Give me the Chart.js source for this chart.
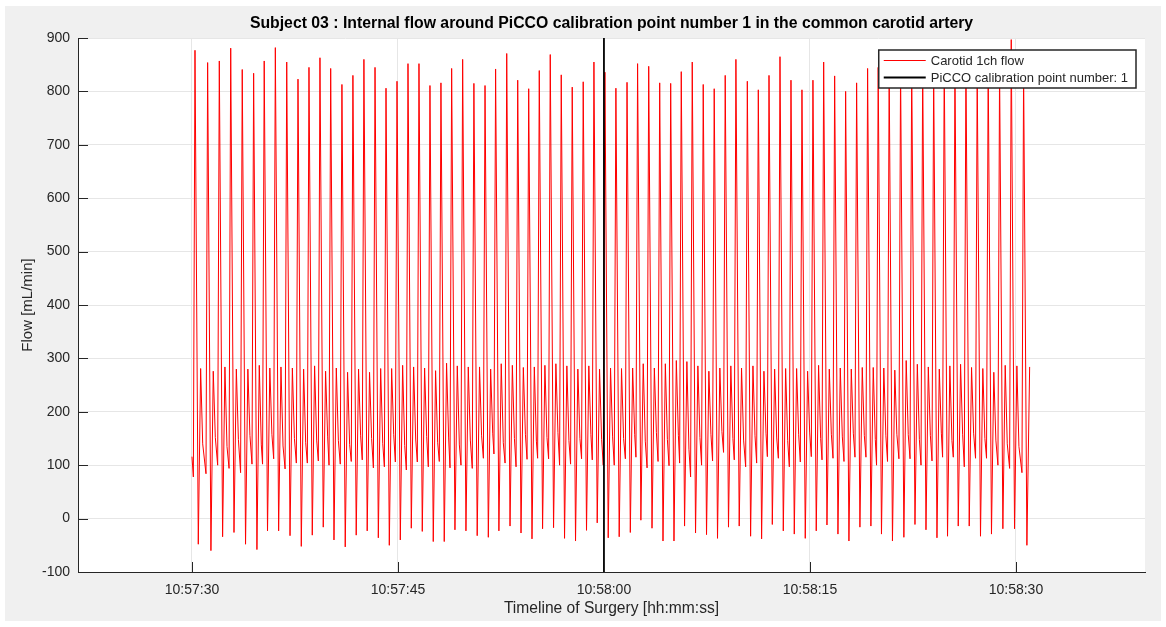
<!DOCTYPE html>
<html>
<head>
<meta charset="utf-8">
<title>Subject 03 - carotid flow around PiCCO calibration</title>
<script src="https://cdn.jsdelivr.net/npm/chart.js@4.4.1/dist/chart.umd.min.js"></script>
<style>
  html, body { margin: 0; padding: 0; background: #fff; overflow: hidden; }
  #figure { position: absolute; left: 5px; top: 6px; width: 1156px; height: 615px; background: #f0f0f0; }
</style>
</head>
<body>
<div id="figure"><canvas id="flowChart" width="1156" height="615"></canvas></div>
<script>
// --- Data (seconds after 10:57:30, flow in mL/min) ---
const xTickValues = [0, 15, 30, 45, 60];
const xTickLabels = ['10:57:30', '10:57:45', '10:58:00', '10:58:15', '10:58:30'];

const calibTime = [30, 30];          // PiCCO calibration point 1 = 10:58:00
const calibFlow = [-100, 900];

const startFlow = 116;               // first sample
const endTime = 61.0;                // last sample time

// systolic peak of every beat
const peakTimes = [
  0.22, 1.14, 1.99, 2.82, 3.66, 4.49, 5.26, 6.07, 6.90, 7.72, 8.52, 9.32,
  10.10, 10.92, 11.72, 12.52, 13.33, 14.13, 14.93, 15.73, 16.53, 17.33, 18.13, 18.91, 19.71,
  20.53, 21.34, 22.11, 22.92, 23.72, 24.52, 25.29, 26.09, 26.89, 27.69, 28.49, 29.27, 30.07,
  30.87, 31.68, 32.45, 33.26, 34.06, 34.86, 35.63, 36.43, 37.23, 38.03, 38.83, 39.61, 40.44,
  41.24, 42.02, 42.82, 43.62, 44.42, 45.22, 46.00, 46.80, 47.60, 48.40, 49.20, 49.97, 50.77,
  51.60, 52.41, 53.21, 54.01, 54.78, 55.56, 56.36, 57.18, 57.98, 58.81, 59.66, 60.56
];
const peakFlow = [
  877, 854, 857, 881, 841, 834, 857, 882, 855, 823, 845, 863,
  843, 813, 830, 860, 845, 806, 819, 852, 852, 811, 816, 843, 860,
  815, 811, 842, 871, 821, 805, 839, 869, 831, 808, 818, 855, 836,
  806, 817, 852, 847, 816, 815, 837, 855, 813, 805, 830, 860, 819,
  803, 830, 865, 821, 803, 821, 855, 829, 800, 816, 843, 845, 840,
  845, 855, 850, 840, 860, 845, 855, 840, 850, 845, 897, 840
];
// minimum right after the peak
const troughFlow = [
  -48, -60, -34, -26, -48, -58, -23, -23, -32, -52, -31, -16,
  -40, -53, -31, -23, -36, -50, -40, -18, -24, -43, -43, -21, -23,
  -32, -35, -23, -14, -27, -38, -19, -17, -37, -42, -22, -8, -36,
  -34, -26, -3, -18, -42, -42, -14, -27, -30, -37, -16, -14, -33,
  -38, -11, -23, -29, -37, -23, -12, -29, -42, -16, -14, -29, -42,
  -35, -11, -21, -36, -33, -14, -14, -33, -29, -19, -19, -50
];
// second (reflected) peak
const secondFlow = [
  281, 276, 284, 280, 280, 287, 282, 284, 282, 280, 286, 276,
  282, 274, 280, 274, 281, 281, 287, 284, 282, 277, 291, 286, 284,
  284, 280, 290, 287, 283, 284, 287, 290, 286, 280, 286, 280, 282,
  281, 282, 290, 282, 290, 296, 294, 286, 276, 282, 286, 282, 286,
  276, 280, 281, 281, 276, 287, 280, 282, 280, 283, 283, 282, 278,
  296, 289, 284, 280, 286, 289, 283, 281, 274, 287, 286, 284
];
// shoulder on the way down (none after the last beat)
const notchFlow = [
  140, 152, 135, 148, 156, 138, 158, 136, 150, 142, 147, 153,
  146, 139, 155, 150, 141, 157, 137, 149, 154, 143, 151, 138, 147,
  155, 160, 142, 150, 158, 145, 152, 161, 146, 150, 157, 148, 153,
  150, 157, 145, 161, 148, 156, 130, 152, 158, 163, 150, 147, 155,
  160, 151, 146, 157, 162, 150, 158, 153, 160, 156, 148, 155, 158,
  157, 148, 156, 160, 146, 158, 160, 150, 147, 140, 135
];
// end-diastolic minimum just before each upstroke
const minFlow = [
  78, 84, 100, 94, 86, 102, 102, 112, 93, 104, 104, 108,
  100, 102, 107, 110, 95, 97, 106, 91, 106, 97, 107, 95, 100,
  94, 113, 121, 104, 97, 111, 113, 112, 100, 102, 112, 110, 100,
  100, 112, 115, 95, 107, 99, 104, 78, 100, 108, 124, 110, 97,
  104, 116, 113, 97, 106, 116, 110, 113, 107, 115, 115, 100, 107,
  112, 112, 100, 108, 115, 115, 97, 113, 113, 100, 94, 86
];

// --- Build the waveform from the beat key points ---
const flowPoints = [{ x: 0, y: startFlow }];
peakTimes.forEach((t, i) => {
    flowPoints.push({ x: t - 0.12, y: minFlow[i] });
    flowPoints.push({ x: t, y: peakFlow[i] });
    flowPoints.push({ x: t + 0.24, y: troughFlow[i] });
    if (i < notchFlow.length) {
        flowPoints.push({ x: t + 0.41, y: secondFlow[i] });
        flowPoints.push({ x: t + 0.56, y: notchFlow[i] });
    } else {
        flowPoints.push({ x: endTime, y: secondFlow[i] });
    }
});

const calibPoints = calibTime.map((t, i) => ({ x: t, y: calibFlow[i] }));

const FONT = '"Liberation Sans", Arial, Helvetica, sans-serif';
const TEXT = '#262626';

// white axes background
const axesBackground = {
    id: 'axesBackground',
    beforeDraw(chart) {
        const { ctx, chartArea: a } = chart;
        ctx.save();
        ctx.fillStyle = '#fff';
        ctx.fillRect(a.left, a.top, a.right - a.left, a.bottom - a.top);
        ctx.restore();
    }
};

// MATLAB style ticks pointing into the axes
const innerTicks = {
    id: 'innerTicks',
    afterDatasetsDraw(chart) {
        const { ctx, chartArea: a, scales } = chart;
        ctx.save();
        ctx.strokeStyle = TEXT;
        ctx.lineWidth = 1;
        ctx.beginPath();
        scales.x.ticks.forEach(t => {
            const px = Math.round(scales.x.getPixelForValue(t.value)) + 0.5;
            ctx.moveTo(px, a.bottom);
            ctx.lineTo(px, a.bottom - 10);
        });
        scales.y.ticks.forEach(t => {
            const py = Math.round(scales.y.getPixelForValue(t.value)) + 0.5;
            ctx.moveTo(a.left, py);
            ctx.lineTo(a.left + 10, py);
        });
        ctx.stroke();
        ctx.restore();
    }
};

// legend box in the top right corner of the axes
const legendBox = {
    id: 'legendBox',
    afterDraw(chart) {
        const { ctx, chartArea: a } = chart;
        const items = chart.data.datasets;
        ctx.save();
        ctx.font = '13px ' + FONT;
        const textW = Math.max(...items.map(d => ctx.measureText(d.label).width));
        const w = 52 + textW + 8;
        const h = 38;
        const right = a.right - 9;
        const top = a.top + 12;
        const left = right - w;
        ctx.fillStyle = '#fff';
        ctx.fillRect(left, top, w, h);
        ctx.strokeStyle = TEXT;
        ctx.lineWidth = 1.5;
        ctx.strokeRect(left, top, w, h);
        ctx.textBaseline = 'middle';
        items.forEach((d, i) => {
            const y = top + 10.5 + i * 17;
            ctx.strokeStyle = d.borderColor;
            ctx.lineWidth = d.borderWidth;
            ctx.beginPath();
            ctx.moveTo(left + 5, y);
            ctx.lineTo(left + 47, y);
            ctx.stroke();
            ctx.fillStyle = TEXT;
            ctx.fillText(d.label, left + 52, y + 0.5);
        });
        ctx.restore();
    }
};

// title centred over the axes
const axesTitle = {
    id: 'axesTitle',
    afterDraw(chart) {
        const { ctx, chartArea: a } = chart;
        ctx.save();
        ctx.font = 'bold 15.8px ' + FONT;
        ctx.fillStyle = '#000';
        ctx.textAlign = 'center';
        ctx.textBaseline = 'middle';
        ctx.fillText('Subject 03 : Internal flow around PiCCO calibration point number 1 in the common carotid artery',
            (a.left + a.right) / 2, 18);
        ctx.restore();
    }
};

new Chart(document.getElementById('flowChart'), {
    type: 'line',
    data: {
        datasets: [
            {
                label: 'Carotid 1ch flow',
                data: flowPoints,
                borderColor: '#ff0000',
                borderWidth: 1,
                pointRadius: 0,
                tension: 0,
                order: 1
            },
            {
                label: 'PiCCO calibration point number: 1',
                data: calibPoints,
                borderColor: '#000000',
                borderWidth: 1.8,
                pointRadius: 0,
                order: 0
            }
        ]
    },
    options: {
        responsive: false,
        animation: false,
        layout: { padding: { top: 32, right: 16, left: 0, bottom: 0 } },
        plugins: {
            legend: { display: false },
            tooltip: { enabled: false },
            title: { display: false }
        },
        scales: {
            x: {
                type: 'linear',
                min: -8.3,
                max: 69.4,
                afterBuildTicks: s => { s.ticks = xTickValues.map(v => ({ value: v })); },
                afterFit: s => { s.height = 49; },
                grid: { color: '#e6e6e6', drawTicks: false },
                border: { color: TEXT, width: 1 },
                ticks: {
                    padding: 10,
                    color: TEXT,
                    maxRotation: 0,
                    autoSkip: false,
                    font: { family: FONT, size: 14 },
                    callback: (v, i) => xTickLabels[i]
                },
                title: {
                    display: true,
                    text: 'Timeline of Surgery [hh:mm:ss]',
                    color: TEXT,
                    font: { family: FONT, size: 15.6 },
                    padding: { top: 0, bottom: 3 }
                }
            },
            y: {
                min: -100,
                max: 900,
                afterFit: s => { s.width = 73; },
                grid: { color: '#e6e6e6', drawTicks: false },
                border: { color: TEXT, width: 1 },
                ticks: {
                    stepSize: 100,
                    padding: 8,
                    color: TEXT,
                    font: { family: FONT, size: 14 }
                },
                title: {
                    display: true,
                    text: 'Flow [mL/min]',
                    color: TEXT,
                    font: { family: FONT, size: 15 },
                    padding: { top: 14, bottom: 0 }
                }
            }
        }
    },
    plugins: [axesBackground, innerTicks, legendBox, axesTitle]
});
</script>
</body>
</html>
